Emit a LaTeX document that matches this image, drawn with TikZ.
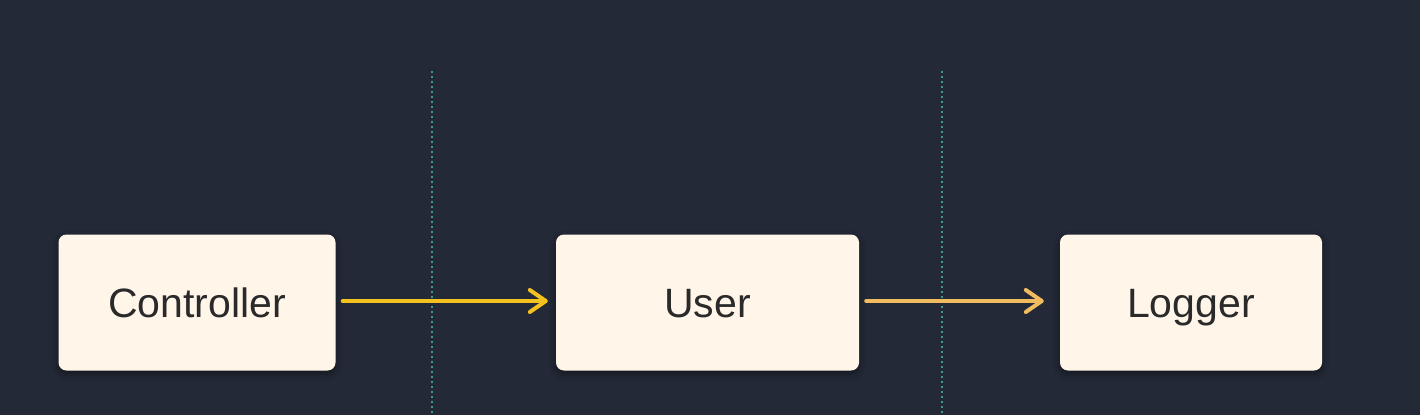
\documentclass[tikz,border=0pt]{standalone}
\usepackage{fontspec}
\setmainfont{Liberation Sans}
\usetikzlibrary{arrows.meta,shadows.blur}
\definecolor{bg}{HTML}{232937}
\definecolor{boxfill}{HTML}{FFF5E9}
\definecolor{txt}{HTML}{2A2A2A}
\definecolor{teal}{HTML}{3D9A8B}
\definecolor{arrA}{HTML}{F4C21E}
\definecolor{arrB}{HTML}{F0BC5E}
\tikzset{
  box/.style={draw=none, fill=boxfill, rounded corners=8pt, inner sep=0pt,
    text=txt, font=\fontsize{41}{48}\selectfont, text height=30pt, text depth=0pt,
    blur shadow={shadow xshift=0pt, shadow yshift=-3pt, shadow blur radius=7pt, shadow opacity=45}},
  divider/.style={teal, line width=2.5pt, dash pattern=on 2.2pt off 2.8pt},
  flow/.style={line width=4pt, line cap=round,
    -{Straight Barb[length=16pt, width=22pt, line width=4pt, round]}},
}
\begin{document}
\begin{tikzpicture}[x=1pt, y=-1pt]
\fill[bg] (0,0) rectangle (1420,415);
\useasboundingbox (0,0) rectangle (1420,415);
\coordinate (d1top) at (432,71);
\coordinate (d1bot) at (432,415);
\coordinate (d2top) at (942,71);
\coordinate (d2bot) at (942,415);
\draw[divider] (d1top) -- (d1bot);
\draw[divider] (d2top) -- (d2bot);
\node[box, minimum width=277pt, minimum height=136pt] (ctrl) at (197,302.5) {Controller};
\node[box, minimum width=303pt, minimum height=136pt] (user) at (707.5,302.5) {User};
\node[box, minimum width=262pt, minimum height=136pt] (log) at (1191,302.5) {Logger};
\draw[flow, arrA] ([xshift=7pt,yshift=1.5pt]ctrl.east) -- ([xshift=-8pt,yshift=1.5pt]user.west);
\draw[flow, arrB] ([xshift=7pt,yshift=1.5pt]user.east) -- ([xshift=-16pt,yshift=1.5pt]log.west);
\end{tikzpicture}
\end{document}
